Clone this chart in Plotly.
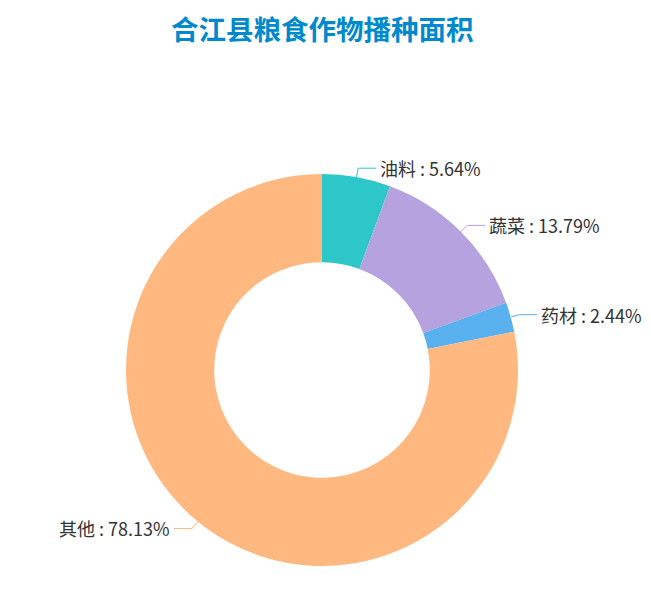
import math
import plotly.graph_objects as go

# Data
categories = ["油料", "蔬菜", "药材", "其他"]
values = [5.64, 13.79, 2.44, 78.13]
colors = ["#2ec7c9", "#b6a2de", "#5ab1ef", "#ffb980"]
title_text = "合江县粮食作物播种面积"

W, H = 651, 590
cx, cy, R = 322, 370, 196
hole = 0.55

fig = go.Figure()
fig.add_trace(go.Pie(
    labels=categories, values=values, sort=False, direction="clockwise",
    rotation=0, hole=hole, textinfo="none", hoverinfo="label+percent",
    marker=dict(colors=colors, line=dict(width=0)),
    domain=dict(x=[(cx - R) / W, (cx + R) / W], y=[(H - cy - R) / H, (H - cy + R) / H]),
    showlegend=False,
))

def px2paper(x, y):
    return x / W, 1 - y / H

total = sum(values)
cum = 0.0
shapes = []
annotations = []
L1, L2 = 9, 18
for name, v, c in zip(categories, values, colors):
    mid = (cum + v / 2) / total * 2 * math.pi
    cum += v
    sx, sy = cx + R * math.sin(mid), cy - R * math.cos(mid)
    ex, ey = cx + (R + L1) * math.sin(mid), cy - (R + L1) * math.cos(mid)
    right = math.sin(mid) >= 0
    hx = ex + (L2 if right else -L2)
    p = [px2paper(sx, sy), px2paper(ex, ey), px2paper(hx, ey)]
    path = "M {} {} L {} {} L {} {}".format(p[0][0], p[0][1], p[1][0], p[1][1], p[2][0], p[2][1])
    shapes.append(dict(type="path", path=path, xref="paper", yref="paper",
                       line=dict(color=c, width=1)))
    tx, ty = px2paper(hx + (2 if right else -2), ey)
    pct = v / total * 100
    annotations.append(dict(
        x=tx, y=ty, xref="paper", yref="paper", showarrow=False,
        text="{} : {:.2f}%".format(name, pct),
        xanchor="left" if right else "right", yanchor="middle",
        font=dict(size=18, color="#333333", family="Noto Sans CJK SC, sans-serif"),
    ))

fig.update_layout(
    width=W, height=H, margin=dict(l=0, r=0, t=0, b=0),
    paper_bgcolor="white", plot_bgcolor="white",
    title=dict(text="<b>" + title_text + "</b>", x=0.495, xanchor="center", y=1 - 30 / H, yanchor="middle",
               font=dict(size=27.5, color="#008acd", family="Noto Sans CJK SC, sans-serif")),
    shapes=shapes, annotations=annotations,
)

fig.write_html("out.html")
